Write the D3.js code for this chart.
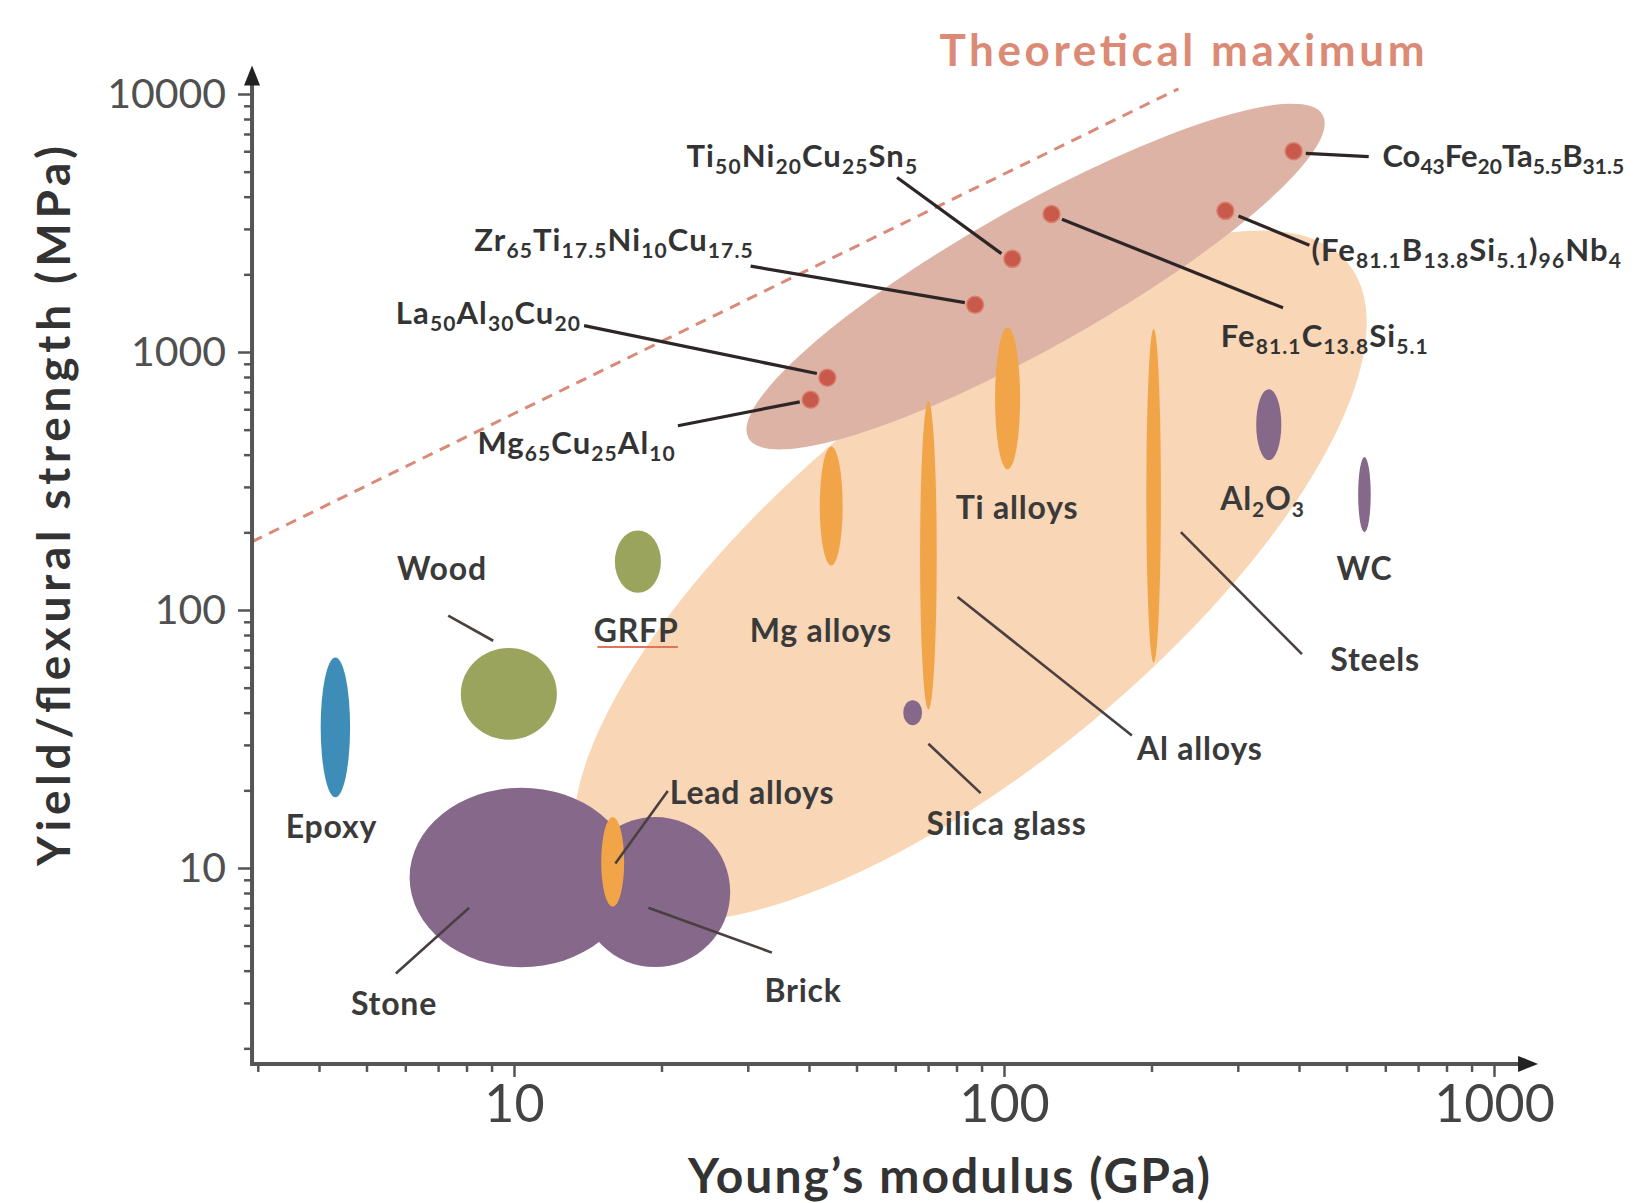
<!DOCTYPE html>
<html lang="en">
<head>
<meta charset="UTF-8">
<script src="https://cdn.jsdelivr.net/npm/d3@7"></script>
<title>Strength vs modulus</title>
<style>
  body { margin: 0; background: #fff; }
  text { font-family: Lato, "Open Sans", sans-serif; }
</style>
</head>
<body>
<script>

// ---- data (Young's modulus E in GPa, strength s in MPa) ----
var xMajor = [10, 100, 1000];
var xMinor = [3, 4, 5, 6, 7, 8, 9, 20, 30, 40, 50, 60, 70, 80, 90,
              200, 300, 400, 500, 600, 700, 800, 900];
var yMajor = [10, 100, 1000, 10000];
var yMinor = [2, 3, 4, 5, 6, 7, 8, 9, 20, 30, 40, 50, 60, 70, 80, 90,
              200, 300, 400, 500, 600, 700, 800, 900,
              2000, 3000, 4000, 5000, 6000, 7000, 8000, 9000];
var xLimits = [2.92, 1230];
var yLimits = [1.74, 12900];

// theoretical maximum line
var theory = [[2.92, 184], [227, 10476]];

// property envelopes: tip to tip, half width in decades of strength
var envelopes = [
  {name: "Metals", cls: "envMetal", E1: 14.45, s1: 8.29, E2: 503, s2: 2213, w: 0.736},
  {name: "BMG", cls: "envBmg", E1: 30.1, s1: 463, E2: 447, s2: 8300, w: 0.272}
];

// materials: centre and half range in decades
var blobs = [
  {name: "Epoxy", cls: "polymer", E: 4.32, s: 35.1, dE: 0.030, dS: 0.271},
  {name: "Wood", cls: "composite", E: 9.76, s: 47.3, dE: 0.098, dS: 0.178},
  {name: "GRFP", cls: "composite", E: 17.9, s: 154, dE: 0.047, dS: 0.121},
  {name: "Mg alloys", cls: "metal", E: 44.4, s: 253, dE: 0.0234, dS: 0.2305},
  {name: "Ti alloys", cls: "metal", E: 101.7, s: 660, dE: 0.0256, dS: 0.275},
  {name: "Al alloys", cls: "metal", E: 70.1, s: 163, dE: 0.017, dS: 0.598},
  {name: "Steels", cls: "metal", E: 202, s: 277, dE: 0.0149, dS: 0.647},
  {name: "Silica glass", cls: "ceramic", E: 65.1, s: 40.0, dE: 0.0192, dS: 0.0485},
  {name: "Al2O3", cls: "ceramic", E: 347, s: 523, dE: 0.0256, dS: 0.1375},
  {name: "WC", cls: "ceramic", E: 544, s: 280, dE: 0.0128, dS: 0.1456},
  {name: "Stone", cls: "ceramic", E: 10.35, s: 9.19, dE: 0.228, dS: 0.348},
  {name: "Brick", cls: "ceramic", E: 19.4, s: 8.07, dE: 0.1534, dS: 0.291},
  {name: "Lead alloys", cls: "metal", E: 15.9, s: 10.56, dE: 0.0234, dS: 0.174}
];

// bulk metallic glasses
var glasses = [
  {name: "Co_{43}Fe_{20}Ta_{5.5}B_{31.5}", E: 390, s: 5995, lE: 592, ls: 5722,
   from: [413, 5884], to: [555, 5722]},
  {name: "(Fe_{81.1}B_{13.8}Si_{5.1})_{96}Nb_{4}", E: 283, s: 3524, lE: 424, ls: 2474,
   from: [301, 3365], to: [420, 2593]},
  {name: "Fe_{81.1}C_{13.8}Si_{5.1}", E: 125, s: 3427, lE: 277, ls: 1153,
   from: [131.3, 3272], to: [371, 1483]},
  {name: "Ti_{50}Ni_{20}Cu_{25}Sn_{5}", E: 104, s: 2296, lE: 22.5, ls: 5722,
   from: [60.5, 4748], to: [98.8, 2406]},
  {name: "Zr_{65}Ti_{17.5}Ni_{10}Cu_{17.5}", E: 87.3, s: 1524, lE: 8.3, ls: 2716,
   from: [30.4, 2151], to: [83.2, 1554]},
  {name: "La_{50}Al_{30}Cu_{20}", E: 43.6, s: 795, lE: 5.74, ls: 1415,
   from: [13.9, 1266], to: [41.5, 825]},
  {name: "Mg_{65}Cu_{25}Al_{10}", E: 40.3, s: 653, lE: 8.42, ls: 442,
   from: [21.6, 518], to: [38.3, 641]}
];

// material labels (centre) and leader lines
var labels = [
  {text: "Epoxy", E: 4.24, s: 14.4},
  {text: "Wood", E: 7.13, s: 144.6},
  {text: "GRFP", E: 17.75, s: 82.7},
  {text: "Mg  alloys", E: 42.3, s: 82.7},
  {text: "Ti  alloys", E: 106.3, s: 248},
  {text: "Al  alloys", E: 251, s: 28.9},
  {text: "Steels", E: 572, s: 64.3},
  {text: "Al_{2}O_{3}", E: 337, s: 270},
  {text: "WC", E: 544, s: 144.6},
  {text: "Silica  glass", E: 101.2, s: 14.8},
  {text: "Stone", E: 5.69, s: 2.98},
  {text: "Brick", E: 38.9, s: 3.33}
];
var leadLabel = {text: "Lead  alloys", E: 20.8, s: 19.5};
var leaders = [
  [[7.34, 95.1], [9.07, 76.0]],
  [[80.4, 112.4], [182.4, 32.6]],
  [[229.6, 200.3], [405.6, 67.4]],
  [[70.1, 30.3], [89.6, 19.5]],
  [[16.1, 10.4], [20.6, 19.9]],
  [[8.1, 7.01], [5.74, 3.9]],
  [[18.8, 7.01], [33.6, 4.7]]
];
var grfpUnderline = [[14.8, 71.9], [21.6, 71.9]];

var palette = {
  envMetal: "#f9d6b6", envBmg: "#dcb3a4", polymer: "#3e8db8",
  composite: "#9ba45c", metal: "#f2a548", ceramic: "#86688b"
};

// ---- chart ----
var W = 1636, H = 1203;
var x = d3.scaleLog().domain([10, 1000]).range([514, 1494]);
var y = d3.scaleLog().domain([10, 10000]).range([868, 94]);

var svg = d3.select("body").append("svg")
    .attr("width", W)
    .attr("height", H);

// envelopes
envelopes.forEach(function(d) {
    var x1 = x(d.E1), y1 = y(d.s1), x2 = x(d.E2), y2 = y(d.s2);
    var a = Math.hypot(x2 - x1, y2 - y1) / 2;
    var b = y(1) - y(Math.pow(10, d.w));
    var ang = Math.atan2(y2 - y1, x2 - x1) * 180 / Math.PI;
    svg.append("ellipse")
        .attr("rx", a)
        .attr("ry", b)
        .attr("transform", "translate(" + (x1 + x2) / 2 + "," + (y1 + y2) / 2 + ") rotate(" + ang + ")")
        .attr("fill", palette[d.cls]);
});

// theoretical maximum
svg.append("line")
    .attr("x1", x(theory[0][0])).attr("y1", y(theory[0][1]))
    .attr("x2", x(theory[1][0])).attr("y2", y(theory[1][1]))
    .attr("stroke", "#d98a78")
    .attr("stroke-width", 3)
    .attr("stroke-dasharray", "11,8");

svg.append("text")
    .attr("x", 1182).attr("y", 49)
    .attr("text-anchor", "middle")
    .attr("dominant-baseline", "central")
    .attr("font-size", 44)
    .attr("font-weight", 700)
    .attr("fill", "#db8a76")
    .attr("textLength", 485)
    .text("Theoretical maximum");

// material blobs
svg.selectAll(".blob")
    .data(blobs)
    .enter()
    .append("ellipse")
    .attr("class", "blob")
    .attr("cx", function(d) { return x(d.E); })
    .attr("cy", function(d) { return y(d.s); })
    .attr("rx", function(d) { return x(d.E * Math.pow(10, d.dE)) - x(d.E); })
    .attr("ry", function(d) { return y(d.s) - y(d.s * Math.pow(10, d.dS)); })
    .attr("fill", function(d) { return palette[d.cls]; });

// formula text with _{sub} parts
function richText(sel, str, size, subSize, shift) {
    var parts = str.split(/(_\{[^}]*\})/).filter(function(p) { return p.length; });
    var sub = false;
    parts.forEach(function(p, i) {
        var isSub = p.charAt(0) === "_";
        var t = sel.append("tspan");
        var dy = 0;
        if (isSub && !sub) dy = shift;
        if (!isSub && sub) dy = -shift;
        if (i === 0) dy += size * 0.35;
        t.attr("dy", dy)
         .attr("font-size", isSub ? subSize : size)
         .text(isSub ? p.slice(2, -1) : p);
        sub = isSub;
    });
}

// leaders
svg.selectAll(".leader")
    .data(leaders)
    .enter()
    .append("line")
    .attr("x1", function(d) { return x(d[0][0]); })
    .attr("y1", function(d) { return y(d[0][1]); })
    .attr("x2", function(d) { return x(d[1][0]); })
    .attr("y2", function(d) { return y(d[1][1]); })
    .attr("stroke", "#4a4040")
    .attr("stroke-width", 2.6);

svg.selectAll(".bmgLeader")
    .data(glasses)
    .enter()
    .append("line")
    .attr("x1", function(d) { return x(d.from[0]); })
    .attr("y1", function(d) { return y(d.from[1]); })
    .attr("x2", function(d) { return x(d.to[0]); })
    .attr("y2", function(d) { return y(d.to[1]); })
    .attr("stroke", "#2e2626")
    .attr("stroke-width", 3.2);

svg.selectAll(".dot")
    .data(glasses)
    .enter()
    .append("circle")
    .attr("cx", function(d) { return x(d.E); })
    .attr("cy", function(d) { return y(d.s); })
    .attr("r", 8.5)
    .attr("fill", "#c95a4b")
    .attr("stroke", "#d9806e")
    .attr("stroke-width", 1.5);

glasses.forEach(function(d) {
    var t = svg.append("text")
        .attr("x", x(d.lE)).attr("y", y(d.ls))
        .attr("font-weight", 700)
        .attr("fill", "#333")
        .attr("letter-spacing", 1.1);
    richText(t, d.name, 31, 21, 7);
    // keep long formulas inside the picture
    var len = t.node().getComputedTextLength();
    if (x(d.lE) + len > W - 6) {
        t.attr("letter-spacing", 0);
        len = t.node().getComputedTextLength();
        if (x(d.lE) + len > W - 6) t.attr("textLength", W - 6 - x(d.lE)).attr("lengthAdjust", "spacingAndGlyphs");
    }
});

labels.forEach(function(d) {
    var t = svg.append("text")
        .attr("x", x(d.E)).attr("y", y(d.s))
        .attr("text-anchor", "middle")
        .attr("font-weight", 700)
        .attr("fill", "#3a3a3a")
        .attr("letter-spacing", 0.8);
    richText(t, d.text, 32, 21, 7);
});

var lt = svg.append("text")
    .attr("x", x(leadLabel.E)).attr("y", y(leadLabel.s))
    .attr("font-weight", 700)
    .attr("fill", "#3a3a3a")
    .attr("letter-spacing", 0.8);
richText(lt, leadLabel.text, 32, 21, 7);

svg.append("line")
    .attr("x1", x(grfpUnderline[0][0])).attr("y1", y(grfpUnderline[0][1]))
    .attr("x2", x(grfpUnderline[1][0])).attr("y2", y(grfpUnderline[1][1]))
    .attr("stroke", "#e2745e")
    .attr("stroke-width", 2);

// ---- axes ----
var x0 = x(xLimits[0]), x1 = x(xLimits[1]);
var y0 = y(yLimits[0]), y1 = y(yLimits[1]);
var axisColor = "#555";

function styleTicks(g) {
    g.select(".domain").remove();
    g.selectAll(".tick line").attr("stroke", axisColor).attr("stroke-width", 2.5);
}

svg.append("g")
    .attr("transform", "translate(0," + y0 + ")")
    .call(d3.axisBottom(x).tickValues(xMinor).tickSize(8).tickFormat(""))
    .call(styleTicks);

svg.append("g")
    .attr("transform", "translate(0," + y0 + ")")
    .call(d3.axisBottom(x).tickValues(xMajor).tickSize(13).tickPadding(8).tickFormat(d3.format("d")))
    .call(styleTicks)
    .call(function(g) {
        g.selectAll("text")
            .attr("font-family", "Lato, sans-serif")
            .attr("font-size", 52)
            .attr("fill", "#444");
    });

svg.append("g")
    .attr("transform", "translate(" + x0 + ",0)")
    .call(d3.axisLeft(y).tickValues(yMinor).tickSize(8).tickFormat(""))
    .call(styleTicks);

svg.append("g")
    .attr("transform", "translate(" + x0 + ",0)")
    .call(d3.axisLeft(y).tickValues(yMajor).tickSize(14).tickPadding(12).tickFormat(d3.format("d")))
    .call(styleTicks)
    .call(function(g) {
        g.selectAll("text")
            .attr("font-family", "'DejaVu Serif', serif")
            .attr("font-size", 41)
            .attr("fill", "#505050");
    });

// axis lines with arrow heads
svg.append("line")
    .attr("x1", x0).attr("y1", y0).attr("x2", x1 - 14).attr("y2", y0)
    .attr("stroke", axisColor).attr("stroke-width", 4);
svg.append("path")
    .attr("d", "M" + x1 + "," + y0 + " L" + (x1 - 20) + "," + (y0 - 8) + " L" + (x1 - 20) + "," + (y0 + 8) + " Z")
    .attr("fill", "#222");
svg.append("line")
    .attr("x1", x0).attr("y1", y0 + 2).attr("x2", x0).attr("y2", y1 + 14)
    .attr("stroke", axisColor).attr("stroke-width", 4);
svg.append("path")
    .attr("d", "M" + x0 + "," + y1 + " L" + (x0 - 8) + "," + (y1 + 20) + " L" + (x0 + 8) + "," + (y1 + 20) + " Z")
    .attr("fill", "#222");

// axis titles
svg.append("text")
    .attr("x", 949).attr("y", 1174)
    .attr("text-anchor", "middle")
    .attr("dominant-baseline", "central")
    .attr("font-size", 48)
    .attr("font-weight", 700)
    .attr("fill", "#333")
    .attr("textLength", 522)
    .text("Young\u2019s modulus (GPa)");

svg.append("text")
    .attr("transform", "translate(52,506) rotate(-90)")
    .attr("text-anchor", "middle")
    .attr("dominant-baseline", "central")
    .attr("font-size", 46)
    .attr("font-weight", 700)
    .attr("fill", "#333")
    .attr("textLength", 720)
    .text("Yield/flexural strength (MPa)");

</script>
</body>
</html>
